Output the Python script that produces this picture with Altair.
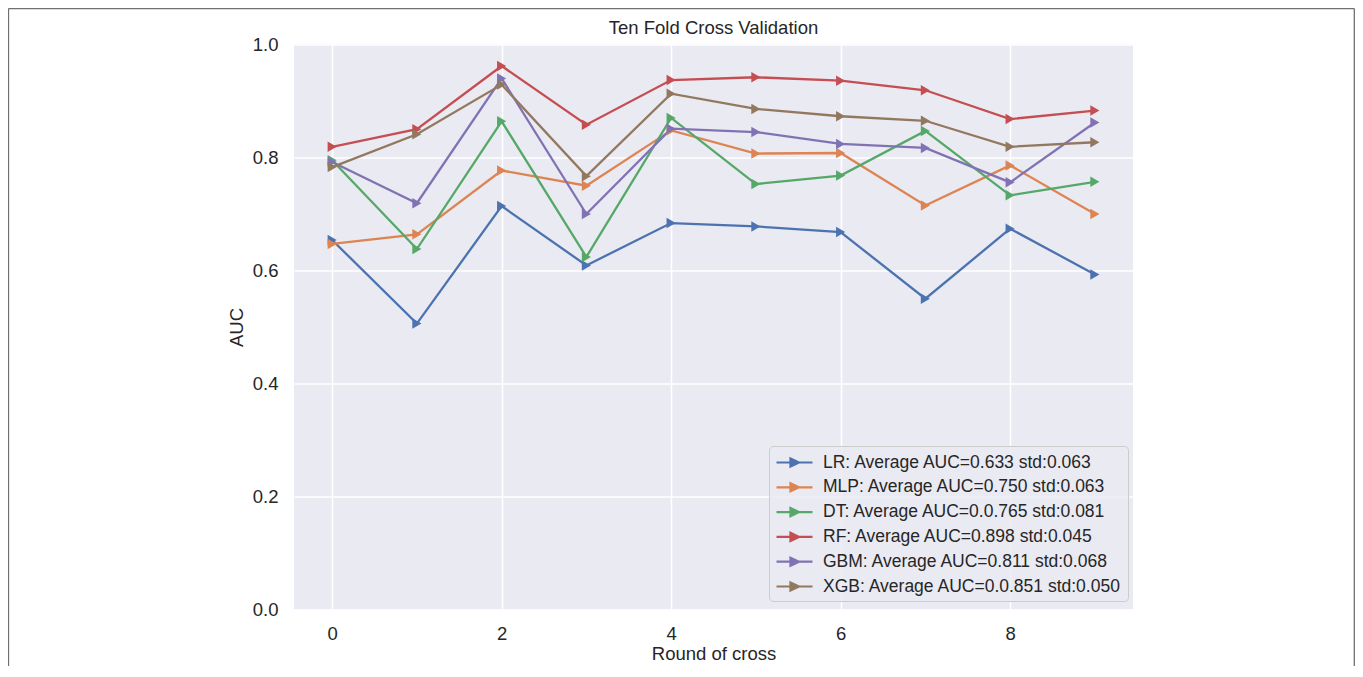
import altair as alt
import pandas as pd

rounds = list(range(10))
models = ["LR", "MLP", "DT", "RF", "GBM", "XGB"]
legend_labels = [
    "LR: Average AUC=0.633 std:0.063",
    "MLP: Average AUC=0.750 std:0.063",
    "DT: Average AUC=0.0.765 std:0.081",
    "RF: Average AUC=0.898 std:0.045",
    "GBM: Average AUC=0.811 std:0.068",
    "XGB: Average AUC=0.0.851 std:0.050",
]
auc_lr = [0.654, 0.506, 0.714, 0.609, 0.684, 0.678, 0.668, 0.550, 0.674, 0.593]
auc_mlp = [0.647, 0.664, 0.777, 0.750, 0.848, 0.807, 0.808, 0.715, 0.786, 0.700]
auc_dt = [0.795, 0.638, 0.864, 0.624, 0.870, 0.753, 0.768, 0.847, 0.733, 0.757]
auc_rf = [0.819, 0.850, 0.962, 0.858, 0.937, 0.942, 0.936, 0.919, 0.868, 0.883]
auc_gbm = [0.792, 0.719, 0.940, 0.700, 0.851, 0.845, 0.824, 0.817, 0.756, 0.862]
auc_xgb = [0.783, 0.841, 0.929, 0.767, 0.913, 0.886, 0.873, 0.865, 0.819, 0.827]
colors = ["#4C72B0", "#DD8452", "#55A868", "#C44E52", "#8172B3", "#937860"]

series = [auc_lr, auc_mlp, auc_dt, auc_rf, auc_gbm, auc_xgb]
rows = []
for m, lab, vals in zip(models, legend_labels, series):
    for r, v in zip(rounds, vals):
        rows.append({"model": m, "label": lab, "round": r, "auc": v})
df = pd.DataFrame(rows)

FONT = "Liberation Sans"
TXT = "#262626"

x_enc = alt.X("round:Q", scale=alt.Scale(domain=[-0.45, 9.45], nice=False, zero=False),
              axis=alt.Axis(values=[0, 2, 4, 6, 8], title="Round of cross", format="d",
                            labelPadding=15, titlePadding=1))
y_enc = alt.Y("auc:Q", scale=alt.Scale(domain=[0, 1], nice=False),
              axis=alt.Axis(values=[0, 0.2, 0.4, 0.6, 0.8, 1.0], format=".1f", title="AUC",
                            labelPadding=16, titlePadding=6))
color_scale = alt.Scale(domain=legend_labels, range=colors)

legend = alt.Legend(
    orient="none", legendX=475, legendY=401.5, title=None,
    symbolType="M-2,0L2,0M-0.45,-0.45L0.5,0L-0.45,0.45Z",
    symbolSize=324, symbolStrokeWidth=2.2, symbolOffset=9,
    labelFont=FONT, labelFontSize=17.5, labelColor=TXT, labelOffset=18, labelLimit=500,
    padding=6, rowPadding=5.8, fillColor="rgba(234,234,242,0.8)", strokeColor="#CCCCCC",
    cornerRadius=4,
)

lines = alt.Chart(df).mark_line(strokeWidth=2.3).encode(
    x=x_enc, y=y_enc,
    stroke=alt.Stroke("label:N", scale=color_scale, legend=legend),
    detail="model:N",
)
points = alt.Chart(df).mark_point(shape="triangle-right", filled=True, size=110, opacity=1).encode(
    x=x_enc, y=y_enc,
    color=alt.Color("label:N", scale=color_scale, legend=legend),
)

one = alt.Data(values=[{"a": 1}])
border_col = "#707070"
left_b = alt.Chart(one).mark_rule(color=border_col, strokeWidth=1.3).encode(
    x=alt.value(-285.5), y=alt.value(-36), y2=alt.value(630))
top_b = alt.Chart(one).mark_rule(color=border_col, strokeWidth=1.3).encode(
    x=alt.value(-285.5), x2=alt.value(1060.3), y=alt.value(-36))
right_b = alt.Chart(one).mark_rule(color=border_col, strokeWidth=1.3).encode(
    x=alt.value(1060.3), y=alt.value(-36), y2=alt.value(630))

chart = alt.layer(lines, points, left_b, top_b, right_b).properties(
    width=839, height=565,
    title=alt.TitleParams("Ten Fold Cross Validation", font=FONT, fontSize=18.5,
                          fontWeight="normal", color=TXT, anchor="middle",
                          baseline="alphabetic", offset=0, dy=45),
    autosize=alt.AutoSizeParams(type="none"),
    padding={"left": 286, "top": 36.5, "right": 222, "bottom": 56},
    background="white",
).configure_view(
    stroke=None, fill="#EAEAF2"
).configure_axis(
    grid=True, gridColor="white", gridWidth=1.5, domain=False, ticks=False, tickSize=0,
    labelFont=FONT, labelFontSize=18.5, labelColor=TXT,
    titleFont=FONT, titleFontSize=18.5, titleColor=TXT, titleFontWeight="normal",
)

chart.save("out.html", embed_options={"renderer": "svg", "actions": False})
